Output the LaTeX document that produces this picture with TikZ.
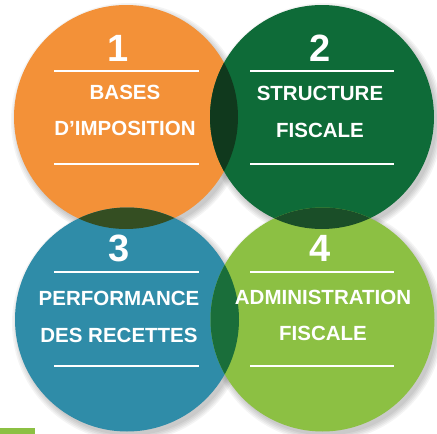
\documentclass[tikz,border=0pt]{standalone}
\usepackage{fontspec}
\setmainfont{Liberation Sans}
\definecolor{corange}{HTML}{F39138}
\definecolor{cdgreen}{HTML}{0E6B38}
\definecolor{cblue}{HTML}{2F8CA8}
\definecolor{clgreen}{HTML}{8CC043}
\definecolor{iOneTwo}{HTML}{10391D}
\definecolor{iOneThree}{HTML}{344E22}
\definecolor{iTwoFour}{HTML}{1A4E28}
\definecolor{iThreeFour}{HTML}{1A6E3A}
\tikzset{
  disc/.style={circle, minimum size=224pt, inner sep=0pt},
  lbl/.style={text=white, font=\bfseries\fontsize{20.5}{24}\selectfont, inner sep=0pt},
  num/.style={text=white, font=\bfseries\fontsize{38}{40}\selectfont, inner sep=0pt},
  wline/.style={draw=white, line width=2.2pt},
}
\begin{document}
\begin{tikzpicture}[x=1pt,y=-1pt]
\useasboundingbox (0,0) rectangle (437,434);
\fill[white] (0,0) rectangle (437,434);
% soft shadows
\foreach \cx/\cy in {126/117, 322/117, 127/319.5, 322.5/319.5}{
  \foreach \k in {0,1.5,...,6}{
    \fill[black, opacity=0.045] (\cx+3,\cy+4) circle (112+\k);
  }
}
% circles
\node[disc, fill=corange] (c1) at (126,117) {};
\node[disc, fill=cdgreen] (c2) at (322,117) {};
\node[disc, fill=cblue] (c3) at (127,319.5) {};
\node[disc, fill=clgreen] (c4) at (322.5,319.5) {};
% intersections
\begin{scope}
  \clip (126,117) circle (112);
  \fill[iOneTwo] (322,117) circle (112);
\end{scope}
\begin{scope}
  \clip (126,117) circle (112);
  \fill[iOneThree] (127,319.5) circle (112);
\end{scope}
\begin{scope}
  \clip (322,117) circle (112);
  \fill[iTwoFour] (322.5,319.5) circle (112);
\end{scope}
\begin{scope}
  \clip (127,319.5) circle (112);
  \fill[iThreeFour] (322.5,319.5) circle (112);
\end{scope}
% white rules
\draw[wline] (54,71) -- (199,71);
\draw[wline] (54,164) -- (199,164);
\draw[wline] (250,71) -- (394,71);
\draw[wline] (250,164) -- (394,164);
\draw[wline] (54,272) -- (199,272);
\draw[wline] (54,366) -- (199,366);
\draw[wline] (250,272) -- (394,272);
\draw[wline] (250,366) -- (394,366);
% numbers
\node[num] (n1) at (118,48) {1};
\node[num] (n2) at (320,48) {2};
\node[num] (n3) at (119,248) {3};
\node[num] (n4) at (320,248) {4};
% labels
\node[lbl] (t1a) at (125,92) {BASES};
\node[lbl] (t1b) at (125,128) {D’IMPOSITION};
\node[lbl] (t2a) at (320,93) {STRUCTURE};
\node[lbl] (t2b) at (320,130) {FISCALE};
\node[lbl] (t3a) at (119,298) {PERFORMANCE};
\node[lbl] (t3b) at (119,335) {DES RECETTES};
\node[lbl] (t4a) at (323,297) {ADMINISTRATION};
\node[lbl] (t4b) at (323,333) {FISCALE};
% green bar
\fill[clgreen] (0,428) rectangle (35,434);
\end{tikzpicture}
\end{document}
